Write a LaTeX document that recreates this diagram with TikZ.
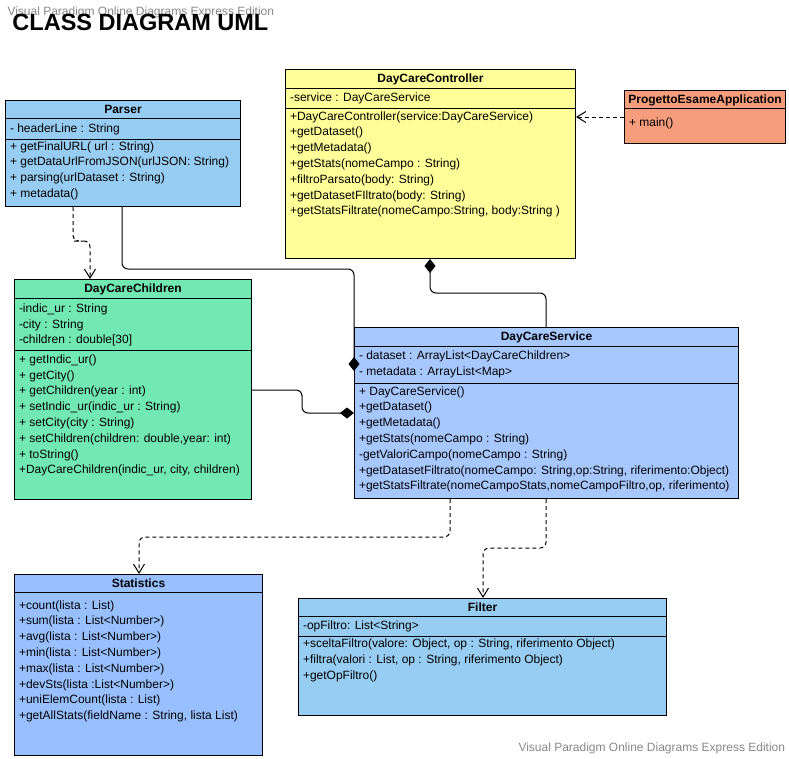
\documentclass[tikz,border=0pt]{standalone}
\usepackage{fontspec}
\setmainfont{Liberation Sans}
\usepackage{tikz}
\usetikzlibrary{arrows.meta}
\definecolor{parserblue}{RGB}{151,205,242}
\definecolor{ctrlyellow}{RGB}{255,255,153}
\definecolor{appsalmon}{RGB}{245,157,125}
\definecolor{childgreen}{RGB}{114,233,178}
\definecolor{serviceblue}{RGB}{167,200,255}
\definecolor{statsblue}{RGB}{152,192,255}
\definecolor{markgray}{RGB}{135,135,135}
\newcommand{\umlclass}[6] {\node at (#1) (#2) [draw, fill=#3, anchor=north west, minimum width=#4pt, minimum height=#5pt, inner sep=0pt] {}; \node (#2-title) [anchor=base, font=\fontsize{12}{14}\selectfont\bfseries] at ([yshift=-13.2pt]#2.north) {#6};}
\newcommand{\umlsep}[2] {\draw ([yshift=-#2pt]#1.north west) -- ([yshift=-#2pt]#1.north east);}
\newcommand{\umlitems}[4] {\foreach \txt [count=\k] in {#4} {\node (#1-#2-\k) [anchor=base west, inner sep=0pt] at ([xshift=4.5pt, yshift={-(#3+(\k-1)*15.8)*1pt}]#1.north west) {\txt};}}
\newcommand{\umldepend}[1] {\draw [dash pattern=on 4pt off 3pt, rounded corners=6pt, -{Straight Barb[length=9pt,width=11pt]}] #1;}
\newcommand{\umlcompose}[1] {\draw [rounded corners=6pt, -{Diamond[length=14pt,width=11pt]}] #1;}

\begin{document}
\begin{tikzpicture}[x=1pt, y=-1pt, line width=1pt, font=\fontsize{12}{14}\selectfont]
\useasboundingbox (0,0) rectangle (789,758);

\node (markTop) [anchor=base west, inner sep=0pt, text=markgray] at (7,15) {Visual Paradigm Online Diagrams Express Edition};
\node (title) [anchor=base west, inner sep=0pt, font=\fontsize{23.5}{28}\selectfont\bfseries] at (12,30) {CLASS DIAGRAM UML};
\node (markBottom) [anchor=base west, inner sep=0pt, text=markgray] at (518,751) {Visual Paradigm Online Diagrams Express Edition};

\umlclass {5,100} {parser} {parserblue} {235} {106} {Parser};
\umlsep {parser} {18};
\umlsep {parser} {39};
\umlitems {parser} {attr} {32} {- headerLine : String};
\umlitems {parser} {op} {50} {+ getFinalURL( url : String), + getDataUrlFromJSON(urlJSON: String), + parsing(urlDataset : String), + metadata()};

\umlclass {285,69} {controller} {ctrlyellow} {290} {189} {DayCareController};
\umlsep {controller} {19};
\umlsep {controller} {39};
\umlitems {controller} {attr} {32.7} {-service : DayCareService};
\umlitems {controller} {op} {51} {+DayCareController(service:DayCareService), +getDataset(), +getMetadata(), +getStats(nomeCampo : String), +filtroParsato(body: String), +getDatasetFIltrato(body: String), +getStatsFiltrate(nomeCampo:String{,} body:String )};

\umlclass {624,90} {progetto} {appsalmon} {161} {53} {ProgettoEsameApplication};
\umlsep {progetto} {18};
\umlitems {progetto} {op} {36} {+ main()};

\umlclass {14,279} {children} {childgreen} {237} {220} {DayCareChildren};
\umlsep {children} {19};
\umlsep {children} {71};
\umlitems {children} {attr} {33.3} {-indic\_ur : String, -city : String, {-children : double[30]}};
\umlitems {children} {op} {84.3} {+ getIndic\_ur(), + getCity(), + getChildren(year : int), + setIndic\_ur(indic\_ur : String), + setCity(city : String), {+ setChildren(children: double,year: int)}, + toString(), {+DayCareChildren(indic\_ur, city, children)}};

\umlclass {354,327} {service} {serviceblue} {384} {171} {DayCareService};
\umlsep {service} {19};
\umlsep {service} {56};
\umlitems {service} {attr} {32.7} {- dataset : ArrayList<DayCareChildren>, - metadata : ArrayList<Map>};
\umlitems {service} {op} {68} {+ DayCareService(), +getDataset(), +getMetadata(), +getStats(nomeCampo : String), -getValoriCampo(nomeCampo : String), {+getDatasetFiltrato(nomeCampo: String,op:String, riferimento:Object)}, {+getStatsFiltrate(nomeCampoStats,nomeCampoFiltro,op, riferimento)}};

\umlclass {14,574} {stats} {statsblue} {248} {181} {Statistics};
\umlsep {stats} {18};
\umlitems {stats} {op} {35} {+count(lista : List), +sum(lista : List<Number>), +avg(lista : List<Number>), +min(lista : List<Number>), +max(lista : List<Number>), +devSts(lista :List<Number>), +uniElemCount(lista : List), {+getAllStats(fieldName : String, lista List)}};

\umlclass {298,598} {filter} {parserblue} {368} {117} {Filter};
\umlsep {filter} {18};
\umlsep {filter} {38};
\umlitems {filter} {attr} {31.3} {-opFiltro: List<String>};
\umlitems {filter} {op} {49.7} {{+sceltaFiltro(valore: Object, op : String, riferimento Object)}, {+filtra(valori : List, op : String, riferimento Object)}, +getOpFiltro()};

\coordinate (bendA) at (80,241);
\coordinate (bendB) at (240,269);
\coordinate (bendC) at (302,401);
\coordinate (bendD) at (490,293);
\coordinate (bendE) at (300,537);
\coordinate (bendF) at (510,548);

\umldepend {([xshift=68pt]parser.south west) |- (bendA) -| ([xshift=76pt]children.north west)};
\umlcompose {([xshift=117pt]parser.south west) |- (bendB) -| ([yshift=-44pt]service.north west)};
\umlcompose {([yshift=-111pt]children.north east) -| (bendC) |- ([yshift=-86pt]service.north west)};
\umlcompose {([xshift=192pt]service.north west) |- (bendD) -| ([xshift=145pt]controller.south west)};
\umldepend {([yshift=-27pt]progetto.north west) -- ([yshift=-48pt]controller.north east)};
\umldepend {([xshift=96pt]service.south west) |- (bendE) -| ([xshift=125pt]stats.north west)};
\umldepend {([xshift=192pt]service.south west) |- (bendF) -| ([xshift=185pt]filter.north west)};
\end{tikzpicture}
\end{document}
